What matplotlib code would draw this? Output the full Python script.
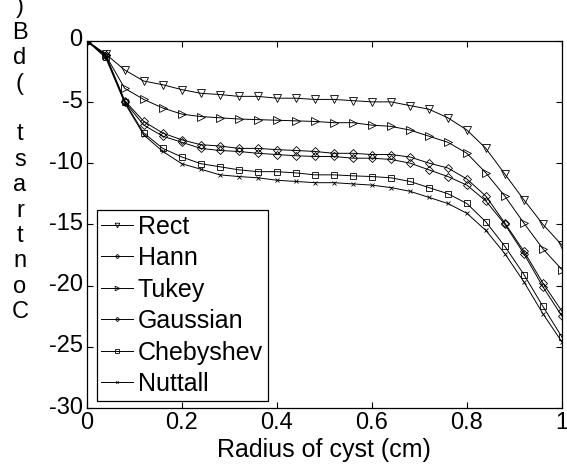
import matplotlib
matplotlib.use("Agg")
import matplotlib.pyplot as plt
import matplotlib.transforms as mtransforms

plt.rcParams['font.family'] = ['Liberation Sans', 'DejaVu Sans']

# cyst radius (cm)
radius = [0.00, 0.04, 0.08, 0.12, 0.16, 0.20, 0.24, 0.28, 0.32, 0.36, 0.40, 0.44, 0.48,
          0.52, 0.56, 0.60, 0.64, 0.68, 0.72, 0.76, 0.80, 0.84, 0.88, 0.92, 0.96, 1.00]

# contrast (dB) per window
rect = [0, -1.1, -2.4, -3.3, -3.6, -4.0, -4.3, -4.4, -4.55, -4.55, -4.7, -4.7, -4.8,
        -4.8, -4.9, -5.0, -5.0, -5.3, -5.6, -6.3, -7.3, -8.8, -10.9, -13.0, -15.0, -16.7]
hann = [0, -1.2, -4.9, -6.6, -7.55, -8.1, -8.5, -8.6, -8.8, -8.8, -8.9, -8.97, -9.05,
        -9.2, -9.2, -9.3, -9.3, -9.5, -10.0, -10.4, -11.3, -12.7, -14.9, -17.2, -19.8, -22.1]
tukey = [0, -1.2, -3.9, -4.8, -5.5, -6.0, -6.2, -6.3, -6.4, -6.45, -6.5, -6.55, -6.6,
         -6.7, -6.7, -6.9, -7.0, -7.3, -7.8, -8.3, -9.2, -10.8, -12.7, -14.9, -17.0, -18.7]
gaussian = [0, -1.2, -5.0, -6.9, -7.8, -8.3, -8.8, -8.97, -9.05, -9.2, -9.3, -9.4, -9.46,
            -9.46, -9.6, -9.6, -9.7, -10.0, -10.55, -11.1, -11.8, -13.1, -15.0, -17.4, -20.1, -22.5]
chebyshev = [0, -1.3, -5.0, -7.55, -8.8, -9.5, -10.05, -10.3, -10.55, -10.7, -10.7, -10.8, -10.96,
             -10.96, -11.04, -11.1, -11.2, -11.5, -12.0, -12.5, -13.3, -14.8, -16.8, -19.1, -21.7, -24.2]
nuttall = [0, -1.4, -5.1, -7.7, -9.05, -10.05, -10.5, -10.96, -11.1, -11.2, -11.4, -11.5, -11.6,
           -11.6, -11.7, -11.8, -12.0, -12.3, -12.8, -13.3, -14.1, -15.5, -17.4, -19.7, -22.3, -24.6]

series = [
    ("Rect", rect, "v", 5.5),
    ("Hann", hann, "D", 3.6),
    ("Tukey", tukey, ">", 5.5),
    ("Gaussian", gaussian, "D", 3.6),
    ("Chebyshev", chebyshev, "s", 4.3),
    ("Nuttall", nuttall, "x", 2.8),
]

fig = plt.figure(figsize=(5.67, 4.70), dpi=100)
ax = fig.add_axes([0.153, 0.132, 0.838, 0.7815])

for name, vals, mk, ms in series:
    ax.plot(radius, vals, color='black', lw=0.7, marker=mk, markersize=ms,
            markerfacecolor='none', markeredgecolor='black', markeredgewidth=0.6,
            label=name)

ax.set_xlim(0, 1)
ax.set_ylim(-30, 0)
ax.set_xticks([0, 0.2, 0.4, 0.6, 0.8, 1])
ax.set_xticklabels(["0", "0.2", "0.4", "0.6", "0.8", "1"])
ax.set_yticks([0, -5, -10, -15, -20, -25, -30])
ax.set_yticklabels(["0", "-5", "-10", "-15", "-20", "-25", "-30"])
ax.tick_params(direction='in', length=4, width=0.8, top=True, right=True,
               labelsize=17, pad=3)
for s in ax.spines.values():
    s.set_linewidth(0.9)

# matlab-like vertical offset of y tick labels
up = mtransforms.ScaledTranslation(0, 2 / 72, fig.dpi_scale_trans)
for lab in ax.get_yticklabels():
    lab.set_transform(lab.get_transform() + up)

ax.set_xlabel("Radius of cyst (cm)", fontsize=18, labelpad=3)

# stacked (reversed) y label as in the original figure
fig.text(0.035, 0.66, "\n".join(reversed("Contrast (dB)")), fontsize=17,
         ha='center', va='center', multialignment='center', linespacing=1.2)

leg = ax.legend(loc='lower left', bbox_to_anchor=(0.021, 0.019), borderaxespad=0,
                fontsize=18, frameon=True, fancybox=False, edgecolor='black',
                framealpha=1, markerscale=0.6, handlelength=1.28, handletextpad=0.17,
                labelspacing=0.3, borderpad=0.19)
leg.get_frame().set_linewidth(0.9)

fig.savefig("out.png", dpi=100)
